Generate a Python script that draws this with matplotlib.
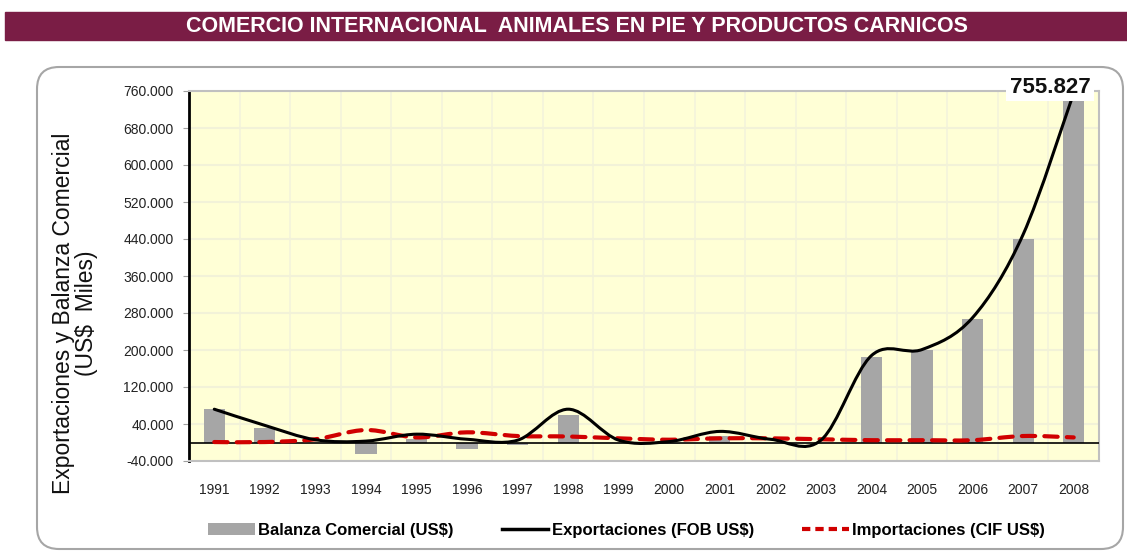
import matplotlib
matplotlib.use('Agg')
import matplotlib.pyplot as plt
import numpy as np
from matplotlib.path import Path
from matplotlib.patches import PathPatch, FancyBboxPatch, Rectangle, Patch
from matplotlib.lines import Line2D
from matplotlib.transforms import IdentityTransform
from matplotlib.ticker import FuncFormatter

# datos en miles de US$
anios = ['1991', '1992', '1993', '1994', '1995', '1996', '1997', '1998', '1999',
         '2000', '2001', '2002', '2003', '2004', '2005', '2006', '2007', '2008']
balanza = [72000, 32000, -1000, -24000, 7000, -15000, -6000, 60000, -2000,
           -3000, 15000, -2000, -2000, 185000, 200000, 267000, 440000, 745000]
exportaciones = [72000, 37000, 6000, 3000, 18000, 7000, 5000, 72000, 5000,
                 2000, 24000, 7000, 5000, 188000, 201000, 270000, 450000, 755827]
importaciones = [1000, 1000, 7000, 27000, 11000, 22000, 14000, 13000, 9000,
                 6000, 9000, 9000, 7000, 5000, 5000, 5000, 14000, 11000]
y_ticks = [-40000, 40000, 120000, 200000, 280000, 360000, 440000, 520000, 600000,
           680000, 760000]

plt.rcParams['font.family'] = ['Liberation Sans', 'DejaVu Sans']


def miles(v, pos=None):
    return f"{v:,.0f}".replace(',', '.')


def smooth_path(x, y):
    # curva suavizada tipo Excel (Bezier por Catmull-Rom)
    pts = np.column_stack([x, y]).astype(float)
    n = len(pts)
    verts = [pts[0]]
    codes = [Path.MOVETO]
    for i in range(n - 1):
        p0 = pts[i - 1] if i > 0 else pts[i]
        p1 = pts[i]
        p2 = pts[i + 1]
        p3 = pts[i + 2] if i + 2 < n else pts[i + 1]
        verts += [p1 + (p2 - p0) / 6, p2 - (p3 - p1) / 6, p2]
        codes += [Path.CURVE4] * 3
    return Path(verts, codes)


fig = plt.figure(figsize=(11.27, 5.52), dpi=100)

# banda del titulo
fig.patches.append(Rectangle((5 / 1127, 1 - 40 / 552), 1, 28 / 552,
                             transform=fig.transFigure, color='#7A1D45', zorder=-2))
fig.text(0.512, 1 - 26 / 552, 'COMERCIO INTERNACIONAL  ANIMALES EN PIE Y PRODUCTOS CARNICOS',
         color='white', fontsize=15.5, fontweight='bold',
         ha='center', va='center')

# recuadro redondeado
fig.patches.append(FancyBboxPatch((37, 3), 1086, 482,
                                  boxstyle='round,pad=0,rounding_size=22',
                                  transform=IdentityTransform(), facecolor='white',
                                  edgecolor='#A6A6A6', lw=1.5, zorder=-2))

ax = fig.add_axes([189 / 1127, 1 - 461 / 552, 910 / 1127, 370 / 552])
ax.set_facecolor('#FFFFD6')
x = np.arange(len(anios))

ax.bar(x, balanza, width=0.42, color='#A6A6A6', zorder=2)
ax.axhline(0, color='black', lw=1.2, zorder=3)

ax.add_patch(PathPatch(smooth_path(x, importaciones), fill=False, edgecolor='#D00000',
                       lw=3, linestyle=(0, (3.2, 2.2)), capstyle='round', zorder=4))
ax.add_patch(PathPatch(smooth_path(x, exportaciones), fill=False, edgecolor='black',
                       lw=2.2, zorder=5, capstyle='round'))

ax.set_xlim(-0.5, len(anios) - 0.5)
ax.set_ylim(-40000, 760000)
ax.set_yticks(y_ticks)
ax.yaxis.set_major_formatter(FuncFormatter(miles))
ax.set_xticks(x)
ax.set_xticklabels(anios)
ax.set_xticks(x[:-1] + 0.5, minor=True)

ax.grid(True, axis='y', which='major', color='#F2F2D8', lw=1.5, zorder=0)
ax.grid(True, axis='x', which='minor', color='#F4F4DC', lw=1.2, zorder=0)
ax.set_axisbelow(True)

ax.tick_params(axis='x', which='both', length=0, pad=16, labelsize=10, labelcolor='#222222')
ax.tick_params(axis='y', length=4, color='#A0A0A0', pad=7, labelsize=10, labelcolor='#222222')

for s in ['top', 'right', 'bottom']:
    ax.spines[s].set_color('#C0C0C0')
    ax.spines[s].set_linewidth(1.5)
ax.spines['left'].set_color('black')
ax.spines['left'].set_linewidth(2)

fig.text(0.0665, 1 - 313 / 552, 'Exportaciones y Balanza Comercial\n(US$  Miles)',
         rotation=90, ha='center', va='center', multialignment='center',
         fontsize=16.5, color='#111111', linespacing=1.0)

# etiqueta del ultimo valor
ax.annotate(miles(exportaciones[-1]), xy=(x[-1], exportaciones[-1]), xytext=(-17, 4),
            textcoords='offset points', ha='center', va='center', fontsize=16,
            fontweight='bold', color='#111111', annotation_clip=False,
            bbox=dict(boxstyle='square,pad=0.15', facecolor='white', edgecolor='none'),
            zorder=10)

handles = [Patch(facecolor='#A6A6A6', edgecolor='none'),
           Line2D([], [], color='black', lw=2.5),
           Line2D([], [], color='#D00000', lw=3, linestyle=(0, (2, 1.2)))]
labels = ['Balanza Comercial (US$)', 'Exportaciones (FOB US$)', 'Importaciones (CIF US$)']
fig.legend(handles, labels, loc='center', bbox_to_anchor=(0.556, 1 - 530 / 552), ncol=3,
           frameon=False, handlelength=2.8, handletextpad=0.2, columnspacing=2.9,
           prop={'weight': 'bold', 'size': 12})

fig.savefig('out.png', dpi=100)
